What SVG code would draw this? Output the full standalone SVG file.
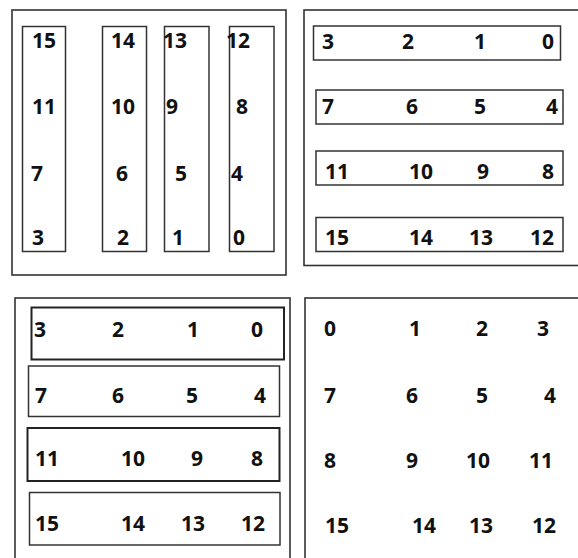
<svg xmlns="http://www.w3.org/2000/svg" width="578" height="558" viewBox="0 0 578 558">
<style>
.outer{fill:none;stroke:#333;stroke-width:1.6}
.box{fill:none;stroke:#333;stroke-width:1.5}
.thick{fill:none;stroke:#222;stroke-width:2}
text{font-family:"Open Sans","Noto Sans","DejaVu Sans",sans-serif;font-weight:700;font-size:21px;fill:#111}
</style>
<rect width="578" height="558" fill="#fff"/>
<g id="panel-top-left">
<rect class="outer" x="12" y="10" width="274" height="265"/>
<g id="col-15"><rect class="box" x="22.5" y="26.5" width="43" height="225"/>
<text x="32" y="48">15</text><text x="32" y="114">11</text><text x="31" y="181">7</text><text x="32" y="245">3</text></g>
<g id="col-14"><rect class="box" x="102.5" y="26.5" width="44" height="225"/>
<text x="111" y="48">14</text><text x="111" y="114">10</text><text x="116" y="181">6</text><text x="117" y="245">2</text></g>
<g id="col-13"><rect class="box" x="164.5" y="26.5" width="44.5" height="225"/>
<text x="163" y="48">13</text><text x="166" y="114">9</text><text x="175" y="181">5</text><text x="172" y="245">1</text></g>
<g id="col-12"><rect class="box" x="229.5" y="26.5" width="44.5" height="225"/>
<text x="226" y="48">12</text><text x="236" y="114">8</text><text x="231" y="181">4</text><text x="233" y="245">0</text></g>
</g>
<g id="panel-top-right">
<rect class="outer" x="304" y="10" width="280" height="255.5"/>
<g id="row-3210"><rect class="box" x="313.5" y="26" width="247" height="34"/>
<text x="322" y="49">3</text><text x="402" y="49">2</text><text x="474" y="49">1</text><text x="542" y="49">0</text></g>
<g id="row-7654"><rect class="box" x="316" y="90" width="247" height="34"/>
<text x="322" y="114">7</text><text x="406" y="114">6</text><text x="474" y="114">5</text><text x="546" y="114">4</text></g>
<g id="row-111098"><rect class="box" x="316" y="151" width="247" height="34"/>
<text x="325" y="179">11</text><text x="409" y="179">10</text><text x="477" y="179">9</text><text x="542" y="179">8</text></g>
<g id="row-15141312"><rect class="box" x="316" y="217.5" width="247" height="34"/>
<text x="325" y="245">15</text><text x="409" y="245">14</text><text x="469" y="245">13</text><text x="530" y="245">12</text></g>
</g>
<g id="panel-bottom-left">
<rect class="outer" x="15" y="298" width="275" height="270"/>
<g id="brow-3210"><rect class="thick" x="31.5" y="307.5" width="252.5" height="52"/>
<text x="34" y="337">3</text><text x="112" y="337">2</text><text x="187" y="337">1</text><text x="251" y="337">0</text></g>
<g id="brow-7654"><rect class="box" x="28.5" y="366" width="251" height="50.5"/>
<text x="35" y="403">7</text><text x="112" y="403">6</text><text x="186" y="403">5</text><text x="254" y="403">4</text></g>
<g id="brow-111098"><rect class="thick" x="27.5" y="428" width="252" height="53"/>
<text x="35" y="466">11</text><text x="121" y="466">10</text><text x="191" y="466">9</text><text x="251" y="466">8</text></g>
<g id="brow-15141312"><rect class="box" x="29.5" y="492.5" width="250.5" height="52.5"/>
<text x="35" y="531">15</text><text x="121" y="531">14</text><text x="181" y="531">13</text><text x="241" y="531">12</text></g>
</g>
<g id="panel-bottom-right">
<rect class="outer" x="305" y="298" width="280" height="270"/>
<text x="324" y="336">0</text><text x="409" y="336">1</text><text x="476" y="336">2</text><text x="537" y="336">3</text>
<text x="324" y="403">7</text><text x="406" y="403">6</text><text x="476" y="403">5</text><text x="544" y="403">4</text>
<text x="324" y="468">8</text><text x="406" y="468">9</text><text x="466" y="468">10</text><text x="529" y="468">11</text>
<text x="325" y="533">15</text><text x="412" y="533">14</text><text x="469" y="533">13</text><text x="532" y="533">12</text>
</g>
</svg>
